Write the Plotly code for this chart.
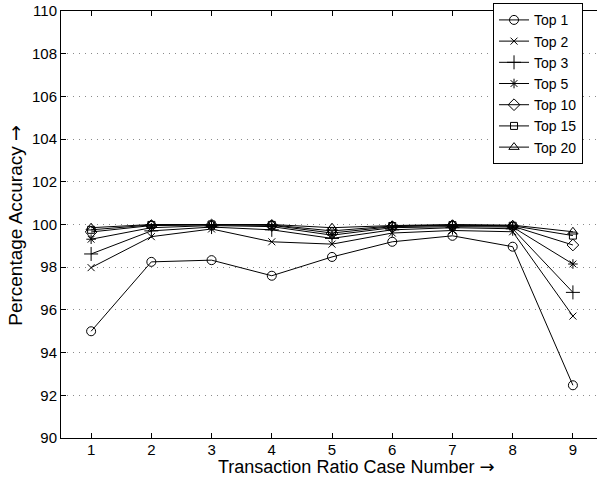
import plotly.graph_objects as go

cases = [1, 2, 3, 4, 5, 6, 7, 8, 9]
top1 = [95.0, 98.25, 98.33, 97.6, 98.48, 99.19, 99.47, 98.96, 92.47]
top2 = [97.98, 99.43, 99.79, 99.19, 99.08, 99.6, 99.72, 99.66, 95.71]
top3 = [98.62, 99.7, 99.88, 99.75, 99.35, 99.75, 99.85, 99.8, 96.82]
top5 = [99.31, 99.85, 99.95, 99.9, 99.5, 99.85, 99.9, 99.88, 98.15]
top10 = [99.65, 99.95, 99.98, 99.96, 99.6, 99.9, 99.95, 99.92, 99.04]
top15 = [99.75, 99.98, 100.0, 99.98, 99.7, 99.93, 99.97, 99.94, 99.48]
top20 = [99.85, 100.0, 100.0, 100.0, 99.85, 99.95, 100.0, 99.97, 99.66]

names = ["Top 1", "Top 2", "Top 3", "Top 5", "Top 10", "Top 15", "Top 20"]
series = [top1, top2, top3, top5, top10, top15, top20]
symbols = ["circle-open", "x-thin-open", "cross-thin-open", "asterisk-open",
           "diamond-open", "square-open", "triangle-up-open"]
sizes = [9, 7, 10, 8, 9, 7, 9]

FONT = "Liberation Sans"
ARROW = "<span style='font-family:DejaVu Sans'>→</span>"

fig = go.Figure()
for name, vals, sym, sz in zip(names, series, symbols, sizes):
    fig.add_trace(go.Scatter(
        x=cases, y=vals, name=name, mode="lines+markers",
        line=dict(color="black", width=1),
        marker=dict(symbol=sym, size=sz, color="black",
                    line=dict(color="black", width=1)),
    ))

fig.update_layout(
    width=597, height=477,
    margin=dict(l=61, r=0, t=11, b=39, autoexpand=False),
    paper_bgcolor="white", plot_bgcolor="white",
    font=dict(family=FONT, size=15, color="black"),
    showlegend=True,
    legend=dict(x=0.806, y=1.018, xanchor="left", yanchor="top",
                bordercolor="black", borderwidth=1, bgcolor="white",
                font=dict(family=FONT, size=14), tracegroupgap=0, itemwidth=30),
    annotations=[
        dict(text="Transaction Ratio Case Number " + ARROW, xref="paper", yref="paper",
             x=0.552, y=0, yshift=-28, xanchor="center", yanchor="middle",
             showarrow=False, font=dict(family=FONT, size=18)),
        dict(text="Percentage Accuracy " + ARROW, xref="paper", yref="paper",
             x=0, y=0.497, xshift=-46, textangle=-90, xanchor="center",
             yanchor="middle", showarrow=False, font=dict(family=FONT, size=19)),
    ],
)
fig.update_xaxes(
    range=[0.5, 9.4], tickmode="array", tickvals=cases,
    ticks="inside", ticklen=5, tickcolor="black",
    showline=True, linecolor="black", linewidth=1, mirror="ticks",
    showgrid=False, zeroline=False, automargin=False,
    tickfont=dict(family=FONT, size=15), ticklabelstandoff=-2,
)
fig.update_yaxes(
    range=[90, 110], tickmode="array", tickvals=list(range(90, 111, 2)),
    ticks="inside", ticklen=5, tickcolor="black",
    showline=True, linecolor="black", linewidth=1,
    showgrid=True, gridcolor="#8a8a8a", griddash="1px,5px", gridwidth=1,
    zeroline=False, automargin=False, tickfont=dict(family=FONT, size=15),
)

fig.write_html("out.html", config={"displayModeBar": False},
               post_script="document.body.style.margin='0';")
